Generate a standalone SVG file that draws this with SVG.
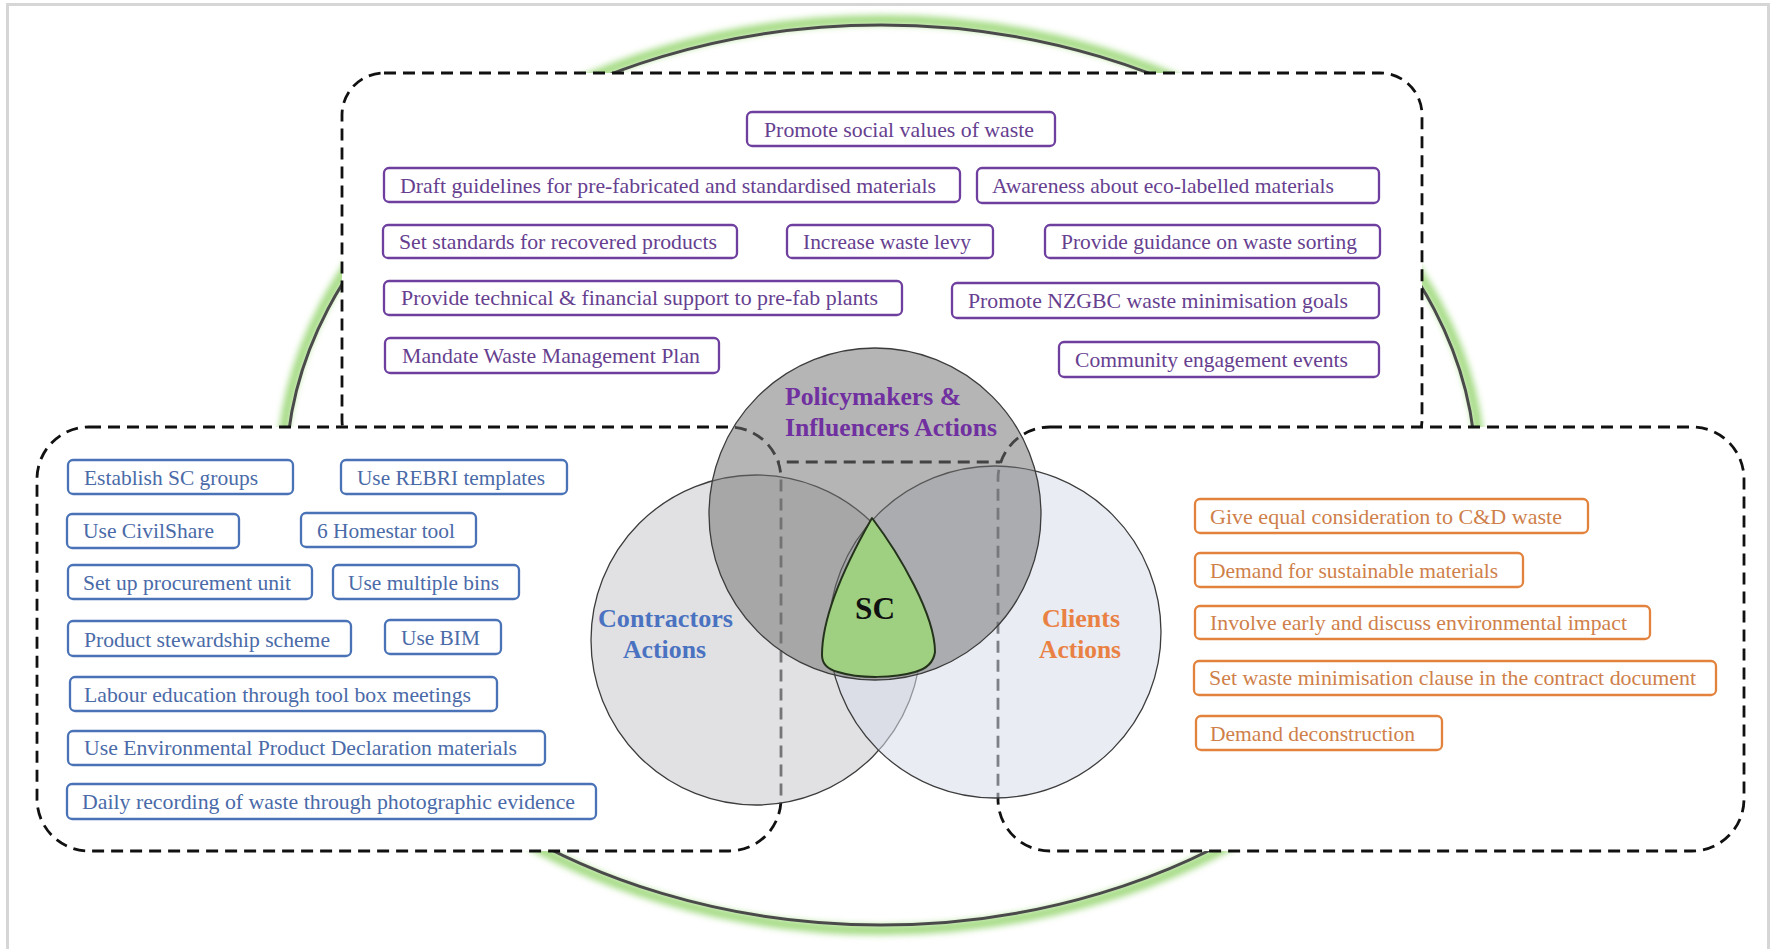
<svg xmlns="http://www.w3.org/2000/svg" width="1771" height="949" viewBox="0 0 1771 949">
  <defs>
    <style>
      .panel { fill: #ffffff; stroke: #111111; stroke-width: 2.8; stroke-dasharray: 12 7; }
      .box { fill: #ffffff; stroke-width: 2.3; }
      .pol .box { stroke: #6f3f9f; }
      .con .box { stroke: #4a72b6; }
      .cli .box { stroke: #e2823c; }
      .t { font-family: "Liberation Serif", "Times New Roman", serif; font-size: 22px; }
      .pol .t { fill: #66408f; }
      .con .t { fill: #4a6aa8; }
      .cli .t { fill: #cf7f4a; }
      .lbl { font-family: "Liberation Serif", "Times New Roman", serif; font-weight: bold; font-size: 25px; }
      .venn { stroke: #3c3c3c; stroke-width: 1.3; }
    </style>
    <filter id="soft" x="-10%" y="-10%" width="120%" height="120%">
      <feGaussianBlur stdDeviation="3"/>
    </filter>
  </defs>

  <!-- page -->
  <rect x="0" y="0" width="1771" height="949" fill="#ffffff"/>
  <rect x="7.5" y="4.5" width="1761" height="970" fill="none" stroke="#d6d6d6" stroke-width="3"/>

  <!-- outer ring -->
  <g id="ring">
    <ellipse cx="881" cy="475" rx="600" ry="455" fill="none" stroke="#a6dc86" stroke-width="10" filter="url(#soft)"/>
    <ellipse cx="881" cy="475" rx="595" ry="450" fill="none" stroke="#4a4a4a" stroke-width="3"/>
  </g>

  <!-- dashed group panels -->
  <g id="panels">
    <rect id="panel-policy" class="panel" x="342" y="73" width="1080" height="389" rx="42" ry="42"/>
    <rect id="panel-contractors" class="panel" x="37" y="427" width="744" height="424" rx="52" ry="52"/>
    <rect id="panel-clients" class="panel" x="998" y="427" width="746" height="424" rx="52" ry="52"/>
  </g>

  <!-- Venn diagram -->
  <g id="venn">
    <circle id="circle-contractors" class="venn" cx="756" cy="640" r="165" fill="rgb(200,200,205)" fill-opacity="0.55"/>
    <circle id="circle-clients" class="venn" cx="995" cy="632" r="166" fill="rgb(215,220,231)" fill-opacity="0.55"/>
    <circle id="circle-policy" class="venn" cx="875" cy="514" r="166" fill="rgb(114,114,114)" fill-opacity="0.52"/>
    <g id="node-sc">
      <path d="M 872,518 C 848,560 822,615 822,655 Q 822,668 838,672 C 860,679 895,678 915,672 Q 933,667 935,652 C 935,615 900,555 872,518 Z"
            fill="#9fcf80" stroke="#25331c" stroke-width="2" stroke-linejoin="round"/>
      <text x="855" y="619" font-family="Liberation Serif, Times New Roman, serif" font-weight="bold" font-size="32" fill="#111111" textLength="40" lengthAdjust="spacingAndGlyphs">SC</text>
    </g>
    <g id="label-policy" class="lbl" fill="#7030a0">
      <text x="785" y="405" textLength="176" lengthAdjust="spacingAndGlyphs">Policymakers &amp;</text>
      <text x="785" y="436" textLength="212" lengthAdjust="spacingAndGlyphs">Influencers Actions</text>
    </g>
    <g id="label-contractors" class="lbl" fill="#4a72c0">
      <text x="598" y="627" textLength="135" lengthAdjust="spacingAndGlyphs">Contractors</text>
      <text x="623" y="658" textLength="83" lengthAdjust="spacingAndGlyphs">Actions</text>
    </g>
    <g id="label-clients" class="lbl" fill="#ea8144">
      <text x="1042" y="627" textLength="78" lengthAdjust="spacingAndGlyphs">Clients</text>
      <text x="1039" y="658" textLength="82" lengthAdjust="spacingAndGlyphs">Actions</text>
    </g>
  </g>

  <!-- policymakers & influencers actions -->
  <g class="pol">
    <g id="p1"><rect class="box" x="747" y="112" width="308" height="34" rx="5"/><text class="t" x="764" y="137" textLength="270" lengthAdjust="spacingAndGlyphs">Promote social values of waste</text></g>
    <g id="p2"><rect class="box" x="384" y="168" width="576" height="34" rx="5"/><text class="t" x="400" y="193" textLength="536" lengthAdjust="spacingAndGlyphs">Draft guidelines for pre-fabricated and standardised materials</text></g>
    <g id="p3"><rect class="box" x="977" y="168" width="402" height="35" rx="5"/><text class="t" x="992" y="193" textLength="342" lengthAdjust="spacingAndGlyphs">Awareness about eco-labelled materials</text></g>
    <g id="p4"><rect class="box" x="383" y="225" width="354" height="33" rx="5"/><text class="t" x="399" y="249" textLength="318" lengthAdjust="spacingAndGlyphs">Set standards for recovered products</text></g>
    <g id="p5"><rect class="box" x="787" y="225" width="206" height="33" rx="5"/><text class="t" x="803" y="249" textLength="168" lengthAdjust="spacingAndGlyphs">Increase waste levy</text></g>
    <g id="p6"><rect class="box" x="1045" y="225" width="335" height="33" rx="5"/><text class="t" x="1061" y="249" textLength="296" lengthAdjust="spacingAndGlyphs">Provide guidance on waste sorting</text></g>
    <g id="p7"><rect class="box" x="384" y="281" width="518" height="34" rx="5"/><text class="t" x="401" y="305" textLength="477" lengthAdjust="spacingAndGlyphs">Provide technical &amp; financial support to pre-fab plants</text></g>
    <g id="p8"><rect class="box" x="952" y="283" width="427" height="35" rx="5"/><text class="t" x="968" y="308" textLength="380" lengthAdjust="spacingAndGlyphs">Promote NZGBC waste minimisation goals</text></g>
    <g id="p9"><rect class="box" x="385" y="338" width="334" height="35" rx="5"/><text class="t" x="402" y="363" textLength="298" lengthAdjust="spacingAndGlyphs">Mandate Waste Management Plan</text></g>
    <g id="p10"><rect class="box" x="1059" y="342" width="320" height="35" rx="5"/><text class="t" x="1075" y="367" textLength="273" lengthAdjust="spacingAndGlyphs">Community engagement events</text></g>
  </g>

  <!-- contractors actions -->
  <g class="con">
    <g id="c1"><rect class="box" x="68" y="460" width="225" height="34" rx="5"/><text class="t" x="84" y="485" textLength="174" lengthAdjust="spacingAndGlyphs">Establish SC groups</text></g>
    <g id="c2"><rect class="box" x="341" y="460" width="226" height="34" rx="5"/><text class="t" x="357" y="485" textLength="188" lengthAdjust="spacingAndGlyphs">Use REBRI templates</text></g>
    <g id="c3"><rect class="box" x="67" y="514" width="172" height="34" rx="5"/><text class="t" x="83" y="538" textLength="131" lengthAdjust="spacingAndGlyphs">Use CivilShare</text></g>
    <g id="c4"><rect class="box" x="301" y="513" width="175" height="34" rx="5"/><text class="t" x="317" y="538" textLength="138" lengthAdjust="spacingAndGlyphs">6 Homestar tool</text></g>
    <g id="c5"><rect class="box" x="68" y="565" width="244" height="34" rx="5"/><text class="t" x="83" y="590" textLength="208" lengthAdjust="spacingAndGlyphs">Set up procurement unit</text></g>
    <g id="c6"><rect class="box" x="333" y="565" width="186" height="34" rx="5"/><text class="t" x="348" y="590" textLength="151" lengthAdjust="spacingAndGlyphs">Use multiple bins</text></g>
    <g id="c7"><rect class="box" x="68" y="621" width="283" height="35" rx="5"/><text class="t" x="84" y="647" textLength="246" lengthAdjust="spacingAndGlyphs">Product stewardship scheme</text></g>
    <g id="c8"><rect class="box" x="385" y="620" width="116" height="34" rx="5"/><text class="t" x="401" y="645" textLength="79" lengthAdjust="spacingAndGlyphs">Use BIM</text></g>
    <g id="c9"><rect class="box" x="70" y="677" width="427" height="34" rx="5"/><text class="t" x="84" y="702" textLength="387" lengthAdjust="spacingAndGlyphs">Labour education through tool box meetings</text></g>
    <g id="c10"><rect class="box" x="68" y="731" width="477" height="34" rx="5"/><text class="t" x="84" y="755" textLength="433" lengthAdjust="spacingAndGlyphs">Use Environmental Product Declaration materials</text></g>
    <g id="c11"><rect class="box" x="67" y="784" width="529" height="35" rx="5"/><text class="t" x="82" y="809" textLength="493" lengthAdjust="spacingAndGlyphs">Daily recording of waste through photographic evidence</text></g>
  </g>

  <!-- clients actions -->
  <g class="cli">
    <g id="k1"><rect class="box" x="1195" y="499" width="393" height="34" rx="5"/><text class="t" x="1210" y="524" textLength="352" lengthAdjust="spacingAndGlyphs">Give equal consideration to C&amp;D waste</text></g>
    <g id="k2"><rect class="box" x="1195" y="553" width="328" height="34" rx="5"/><text class="t" x="1210" y="578" textLength="288" lengthAdjust="spacingAndGlyphs">Demand for sustainable materials</text></g>
    <g id="k3"><rect class="box" x="1195" y="606" width="455" height="33" rx="5"/><text class="t" x="1210" y="630" textLength="417" lengthAdjust="spacingAndGlyphs">Involve early and discuss environmental impact</text></g>
    <g id="k4"><rect class="box" x="1194" y="661" width="522" height="34" rx="5"/><text class="t" x="1209" y="685" textLength="487" lengthAdjust="spacingAndGlyphs">Set waste minimisation clause in the contract document</text></g>
    <g id="k5"><rect class="box" x="1196" y="716" width="246" height="34" rx="5"/><text class="t" x="1210" y="741" textLength="205" lengthAdjust="spacingAndGlyphs">Demand deconstruction</text></g>
  </g>
</svg>
